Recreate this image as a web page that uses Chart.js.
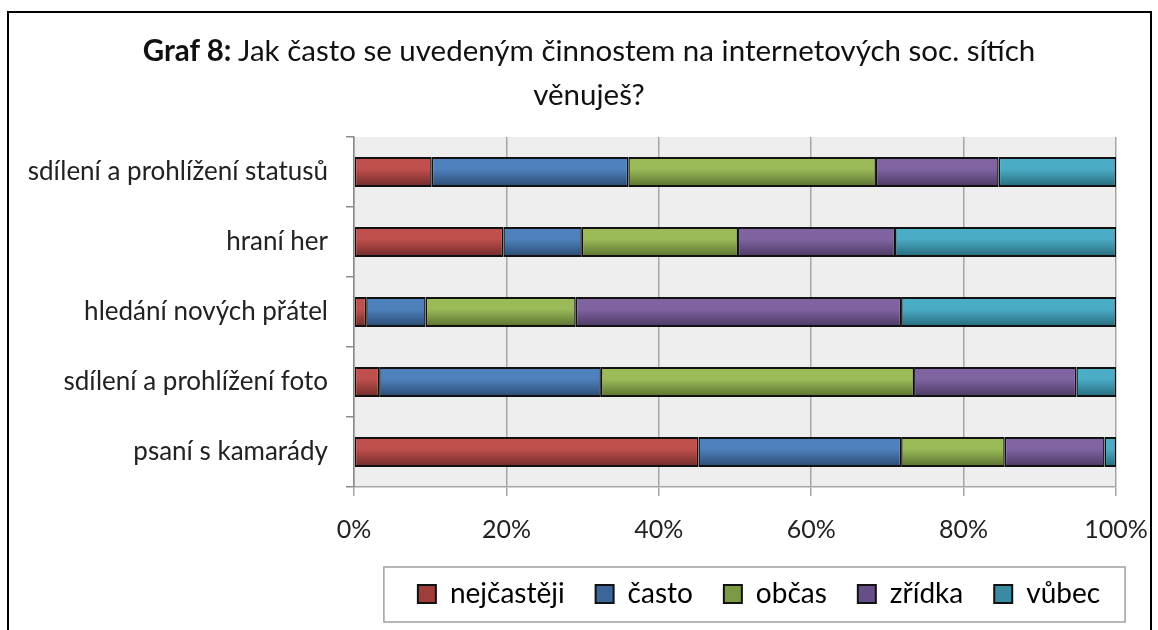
<!DOCTYPE html>
<html>
<head>
<meta charset="utf-8">
<script src="https://cdn.jsdelivr.net/npm/chart.js@4.4.0/dist/chart.umd.min.js"></script>
<style>
  html, body { margin: 0; padding: 0; background: #fff; }
  body { width: 1158px; height: 630px; position: relative; overflow: hidden; font-family: Lato, sans-serif; }
  #frame { position: absolute; left: 7px; top: 11px; width: 1145px; height: 660px; border: 2px solid #000; box-sizing: border-box; }
  #title { position: absolute; left: 0; top: 28px; width: 1178px; text-align: center; font-size: 29.5px; line-height: 44px; color: #111; }
  #title b { font-weight: bold; }
  #wrap { position: absolute; left: 0; top: 0; width: 1158px; height: 630px; }
</style>
</head>
<body>
<div id="frame"></div>
<div id="wrap"><canvas id="chart"></canvas></div>
<div id="title"><b>Graf 8:</b> Jak často se uvedeným činnostem na internetových soc. sítích<br>věnuješ?</div>
<script>
// kategorie (odshora dolů)
const categories = ['sdílení a prohlížení statusů', 'hraní her', 'hledání nových přátel', 'sdílení a prohlížení foto', 'psaní s kamarády'];
const seriesNames = ['nejčastěji', 'často', 'občas', 'zřídka', 'vůbec'];

// podíly v %
const nejcasteji = [10.2, 19.6, 1.6, 3.3, 45.2];
const casto = [25.8, 10.3, 7.8, 29.1, 26.6];
const obcas = [32.5, 20.5, 19.7, 41.1, 13.6];
const zridka = [16.1, 20.6, 42.7, 21.3, 13.1];
const vubec = [15.4, 29.0, 28.2, 5.2, 1.5];

const xTicks = [0, 20, 40, 60, 80, 100];

const colors = ['#C0504D', '#4F81BD', '#9BBB59', '#8064A2', '#4BACC6'];
const darkColors = ['#6E2A28', '#2A4A70', '#5A7030', '#4A3862', '#25697A'];
const legendColors = ['#9E3E3B', '#3C6699', '#7C9A44', '#664F86', '#3A8BA2'];

const barPct = 0.43;

// gradient shora dolů jako v Excelu 2007
function barFill(i) {
    return function (c) {
        const chart = c.chart;
        const y = chart.scales.y;
        if (!chart.chartArea || !y || c.dataIndex === undefined) return colors[i];
        const mid = y.getPixelForValue(c.dataIndex);
        const half = y.height / categories.length * barPct / 2;
        const g = chart.ctx.createLinearGradient(0, mid - half, 0, mid + half);
        g.addColorStop(0, colors[i]);
        g.addColorStop(0.4, colors[i]);
        g.addColorStop(1, darkColors[i]);
        return g;
    };
}

const seriesData = [nejcasteji, casto, obcas, zridka, vubec];
const datasets = seriesNames.map((name, i) => ({
    label: name,
    data: seriesData[i],
    backgroundColor: barFill(i),
    borderColor: '#111',
    borderWidth: { top: 2, bottom: 2, left: 1.5, right: 1.5 },
    borderSkipped: false,
    barPercentage: barPct,
    categoryPercentage: 1
}));

// pozadí grafu + rámeček legendy
const decor = {
    id: 'decor',
    beforeDraw(chart) {
        const { ctx, chartArea: a } = chart;
        ctx.save();
        ctx.fillStyle = '#eeeeee';
        ctx.fillRect(a.left, a.top, a.right - a.left, a.bottom - a.top);
        ctx.restore();
    },
    afterLayout(chart) {
        // legenda je v originále posunutá trochu doprava
        const lg = chart.legend;
        lg.left += 24;
        lg.right += 24;
    },
    afterDraw(chart) {
        const lg = chart.legend;
        const hb = lg.legendHitBoxes;
        if (!hb || !hb.length) return;
        const first = hb[0], last = hb[hb.length - 1];
        const cy = first.top + first.height / 2;
        const ctx = chart.ctx;
        ctx.save();
        ctx.strokeStyle = '#a0a0a0';
        ctx.lineWidth = 1.5;
        ctx.strokeRect(first.left - 34, cy - 27, last.left + last.width - first.left + 59, 55);
        ctx.restore();
    }
};

new Chart(document.getElementById('chart').getContext('2d'), {
    type: 'bar',
    data: { labels: categories, datasets: datasets },
    plugins: [decor],
    options: {
        indexAxis: 'y',
        responsive: true,
        maintainAspectRatio: false,
        animation: false,
        layout: { padding: { top: 137, right: 42, left: 0, bottom: 12 } },
        plugins: {
            title: { display: false },
            tooltip: { enabled: false },
            legend: {
                position: 'bottom',
                fullSize: false,
                labels: {
                    font: { family: 'Lato', size: 28 },
                    color: '#111',
                    boxWidth: 18,
                    boxHeight: 18,
                    padding: 31,
                    generateLabels(chart) {
                        return chart.data.datasets.map((d, i) => ({
                            text: d.label,
                            fillStyle: legendColors[i],
                            strokeStyle: '#111',
                            lineWidth: 2,
                            datasetIndex: i
                        }));
                    }
                }
            }
        },
        scales: {
            x: {
                stacked: true,
                min: 0,
                max: 100,
                afterBuildTicks(scale) {
                    scale.ticks = xTicks.map(v => ({ value: v }));
                },
                afterFit(scale) {
                    scale.height = 62;
                    scale.paddingLeft = 0;
                    scale.paddingRight = 0;
                },
                ticks: {
                    callback: v => v + '%',
                    font: { family: 'Lato', size: 25 },
                    color: '#222',
                    padding: 19,
                    maxRotation: 0
                },
                grid: { color: '#a6a6a6', lineWidth: 1.5, tickLength: 9 },
                border: { display: true, color: '#a6a6a6', width: 1.5 }
            },
            y: {
                stacked: true,
                afterFit(scale) { scale.width = 354; },
                ticks: {
                    font: { family: 'Lato', size: 26 },
                    color: '#222',
                    padding: 18
                },
                grid: { drawOnChartArea: false, color: '#8a8a8a', lineWidth: 1.5, tickLength: 8, offset: true },
                border: { display: true, color: '#8a8a8a', width: 1.5 }
            }
        }
    }
});
</script>
</body>
</html>
